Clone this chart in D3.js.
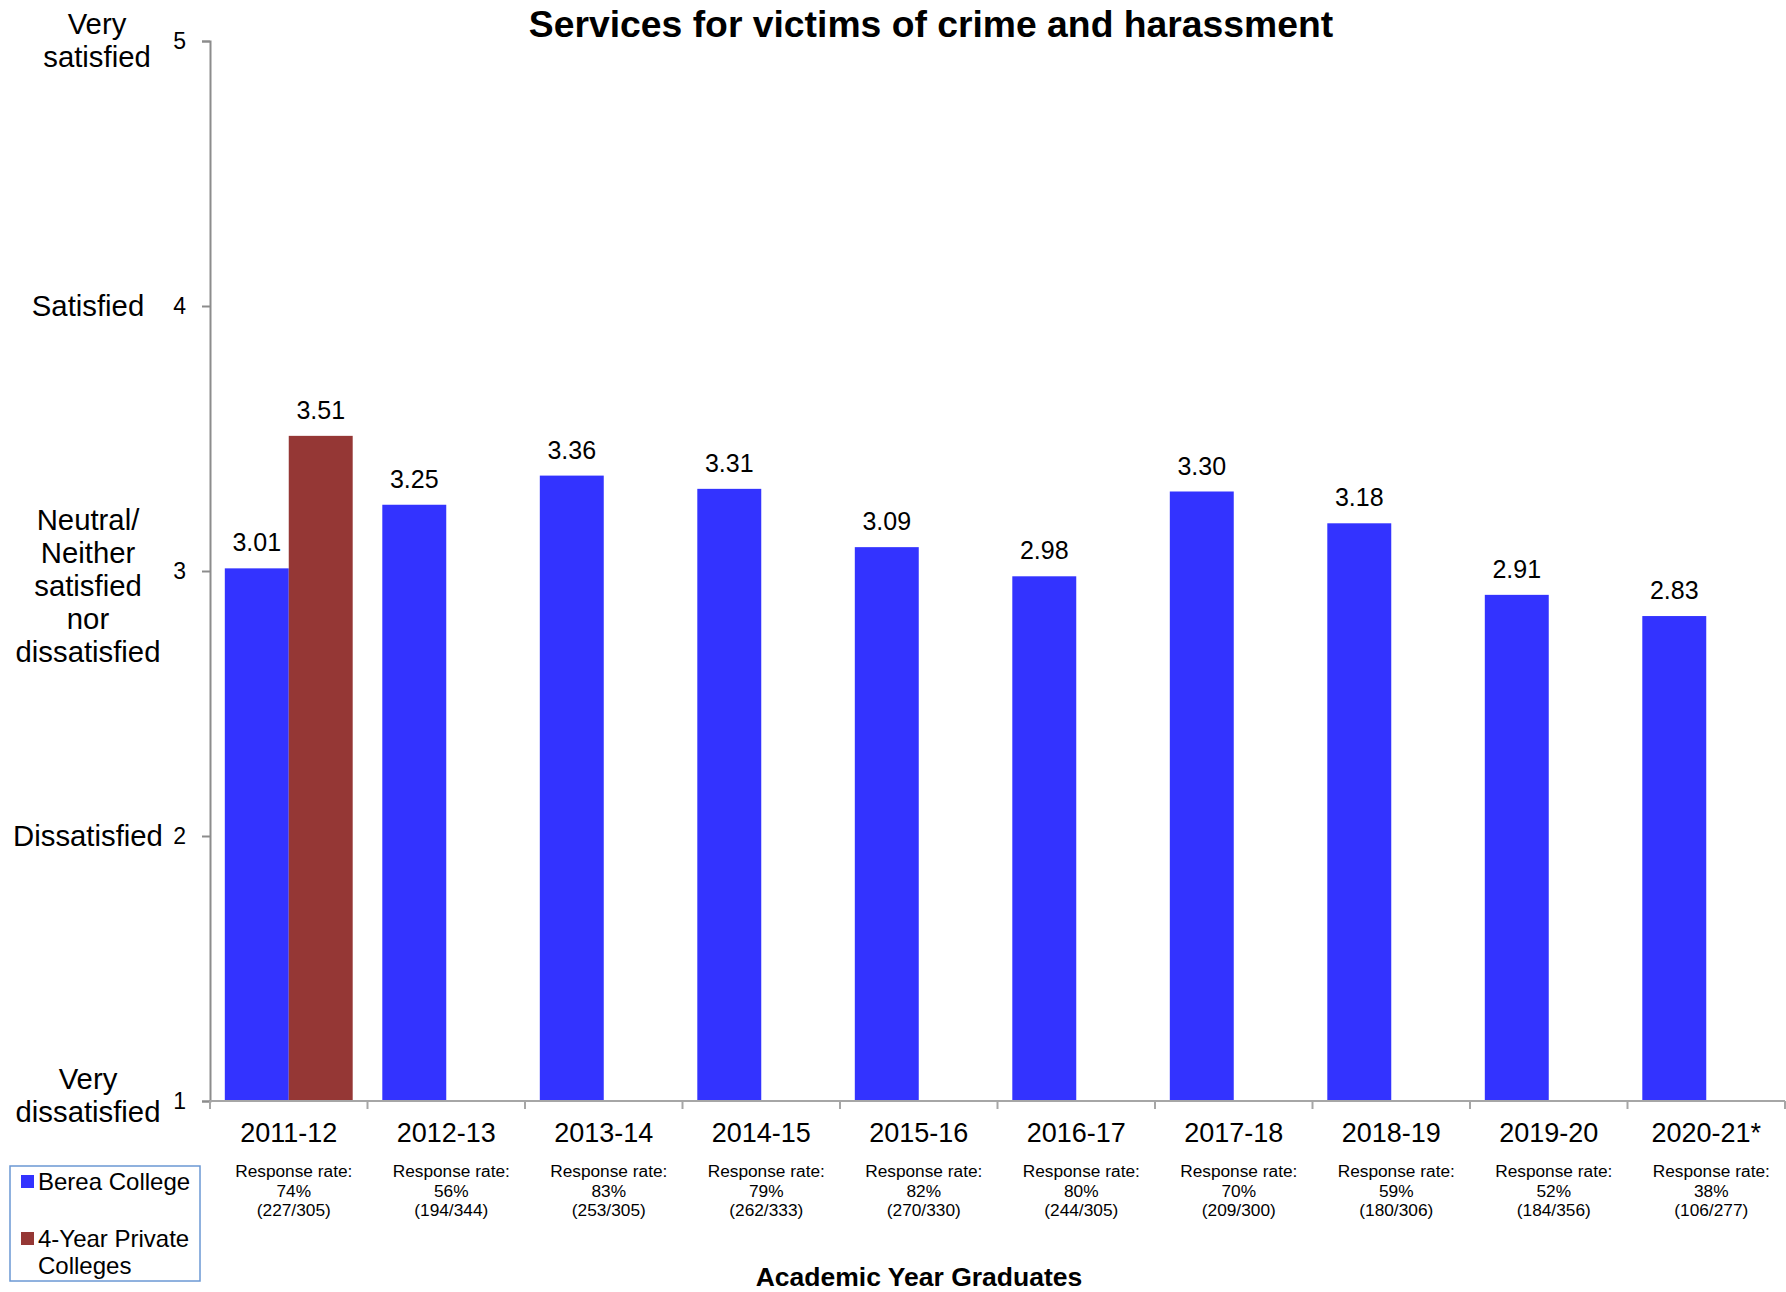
<!DOCTYPE html>
<html>
<head>
<meta charset="utf-8">
<script src="https://cdn.jsdelivr.net/npm/d3@7"></script>
<style>
  html, body { margin: 0; padding: 0; background: #fff; }
  svg { display: block; font-family: "Liberation Sans", Arial, sans-serif; }
</style>
</head>
<body>
<div id="wrapper"></div>
<script>
// Data
const years = ["2011-12", "2012-13", "2013-14", "2014-15", "2015-16", "2016-17", "2017-18", "2018-19", "2019-20", "2020-21*"];
const seriesNames = ["Berea College", "4-Year Private Colleges"];
const bereaValues = [3.01, 3.25, 3.36, 3.31, 3.09, 2.98, 3.30, 3.18, 2.91, 2.83];
const privateValues = [3.51, null, null, null, null, null, null, null, null, null];
const responseRates = ["74%", "56%", "83%", "79%", "82%", "80%", "70%", "59%", "52%", "38%"];
const responseCounts = ["(227/305)", "(194/344)", "(253/305)", "(262/333)", "(270/330)", "(244/305)", "(209/300)", "(180/306)", "(184/356)", "(106/277)"];
const yTicks = [1, 2, 3, 4, 5];
const yLevelLabels = [
  ["Very", "dissatisfied"],
  ["Dissatisfied"],
  ["Neutral/", "Neither", "satisfied", "nor", "dissatisfied"],
  ["Satisfied"],
  ["Very", "satisfied"],
];
const colors = ["#3333ff", "#953735"];

// Dimensions
const dimensions = {
  width: 1786,
  height: 1292,
  margins: { top: 41, right: 1, bottom: 191, left: 210 },
};
dimensions.boundedWidth = dimensions.width - dimensions.margins.left - dimensions.margins.right;
dimensions.boundedHeight = dimensions.height - dimensions.margins.top - dimensions.margins.bottom;

const dataset = years.map((year, i) => ({
  year,
  values: [bereaValues[i], privateValues[i]],
  rate: responseRates[i],
  count: responseCounts[i],
}));

// SVG
const wrapper = d3.select("#wrapper")
  .append("svg")
  .attr("width", dimensions.width)
  .attr("height", dimensions.height);

const bounds = wrapper.append("g")
  .attr("transform", `translate(${dimensions.margins.left},${dimensions.margins.top})`);

// Scales
const xScale = d3.scaleBand()
  .domain(years)
  .range([0, dimensions.boundedWidth])
  .paddingInner(0.188)
  .paddingOuter(0.094);

const seriesScale = d3.scaleBand()
  .domain([0, 1])
  .range([0, xScale.bandwidth()]);

const yScale = d3.scaleLinear()
  .domain([1, 5])
  .range([dimensions.boundedHeight, 0]);

// Bars
const groups = bounds.append("g")
  .selectAll("g")
  .data(dataset)
  .join("g")
  .attr("transform", (d) => `translate(${xScale(d.year)},0)`);

const bars = groups.selectAll("g")
  .data((d) => d.values.map((v, i) => ({ v, i })).filter((e) => e.v != null))
  .join("g");

bars.append("rect")
  .attr("x", (d) => seriesScale(d.i))
  .attr("y", (d) => yScale(d.v))
  .attr("width", seriesScale.bandwidth())
  .attr("height", (d) => dimensions.boundedHeight - yScale(d.v))
  .attr("fill", (d) => colors[d.i]);

bars.append("text")
  .attr("x", (d) => seriesScale(d.i) + seriesScale.bandwidth() / 2)
  .attr("y", (d) => yScale(d.v) - 17)
  .attr("text-anchor", "middle")
  .style("font-size", "25px")
  .attr("fill", "#000")
  .text((d) => d3.format(".2f")(d.v));

// Y axis
const yAxis = bounds.append("g")
  .call(d3.axisLeft(yScale).tickValues(yTicks).tickFormat(d3.format("d")).tickSize(8).tickPadding(16));
yAxis.select(".domain").attr("stroke", "#8c8c8c").attr("stroke-width", 2);
yAxis.selectAll(".tick line").attr("stroke", "#8c8c8c").attr("stroke-width", 2);
yAxis.selectAll(".tick text")
  .style("font-size", "23px")
  .style("font-family", "'Liberation Sans', Arial, sans-serif")
  .attr("fill", "#000");

// level names to the left of the y ticks
const lineHeight = 33;
const levelShift = [-6, 0, 15, 0, -1];
const levelGroup = bounds.append("g");
yTicks.forEach((t, i) => {
  const lines = yLevelLabels[i];
  const cx = t === 5 ? -113 : -122;
  const firstBaseline = yScale(t) + 10 - ((lines.length - 1) * lineHeight) / 2 + levelShift[i];
  const txt = levelGroup.append("text")
    .attr("text-anchor", "middle")
    .style("font-size", "29.3px")
    .attr("fill", "#000");
  lines.forEach((line, j) => {
    txt.append("tspan")
      .attr("x", cx)
      .attr("y", firstBaseline + j * lineHeight)
      .text(line);
  });
});

// X axis
const xEdges = years.map((y) => xScale(y) - xScale.step() * xScale.paddingInner() / 2)
  .concat([dimensions.boundedWidth]);
const xAxis = bounds.append("g")
  .attr("transform", `translate(0,${dimensions.boundedHeight})`);
xAxis.append("line")
  .attr("x1", 0).attr("x2", dimensions.boundedWidth)
  .attr("y1", 0).attr("y2", 0)
  .attr("stroke", "#a6a6a6").attr("stroke-width", 2);
xAxis.selectAll(".edge")
  .data(xEdges)
  .join("line")
  .attr("class", "edge")
  .attr("x1", (d) => d).attr("x2", (d) => d)
  .attr("y1", 0).attr("y2", 8)
  .attr("stroke", "#a6a6a6").attr("stroke-width", 2);

const xLabels = xAxis.selectAll(".cat")
  .data(dataset)
  .join("g")
  .attr("class", "cat")
  .attr("transform", (d) => `translate(${xScale(d.year) + xScale.bandwidth() / 2},0)`);

xLabels.append("text")
  .attr("y", 41)
  .attr("text-anchor", "middle")
  .style("font-size", "27px")
  .attr("fill", "#000")
  .text((d) => d.year);

const note = xLabels.append("text")
  .attr("text-anchor", "middle")
  .style("font-size", "17.3px")
  .attr("fill", "#000");
note.append("tspan").attr("x", 5).attr("y", 76).text("Response rate:");
note.append("tspan").attr("x", 5).attr("y", 95.5).text((d) => d.rate);
note.append("tspan").attr("x", 5).attr("y", 115).text((d) => d.count);

// Titles
wrapper.append("text")
  .attr("x", 931)
  .attr("y", 37)
  .attr("text-anchor", "middle")
  .style("font-size", "37.3px")
  .style("font-weight", "bold")
  .text("Services for victims of crime and harassment");

wrapper.append("text")
  .attr("x", 919)
  .attr("y", 1286)
  .attr("text-anchor", "middle")
  .style("font-size", "26.5px")
  .style("font-weight", "bold")
  .text("Academic Year Graduates");

// Legend
const legend = wrapper.append("g");
legend.append("rect")
  .attr("x", 10).attr("y", 1166)
  .attr("width", 190).attr("height", 115)
  .attr("fill", "#fff")
  .attr("stroke", "#6b98d4")
  .attr("stroke-width", 1.5);

const legendLines = [["Berea College"], ["4-Year Private", "Colleges"]];
const legendTop = [1175, 1232];
seriesNames.forEach((name, i) => {
  legend.append("rect")
    .attr("x", 21).attr("y", legendTop[i])
    .attr("width", 13).attr("height", 13)
    .attr("fill", colors[i]);
  const t = legend.append("text")
    .style("font-size", "24px")
    .attr("fill", "#000");
  legendLines[i].forEach((line, j) => {
    t.append("tspan")
      .attr("x", 38)
      .attr("y", legendTop[i] + 15 + j * 27)
      .text(line);
  });
});
</script>
</body>
</html>
